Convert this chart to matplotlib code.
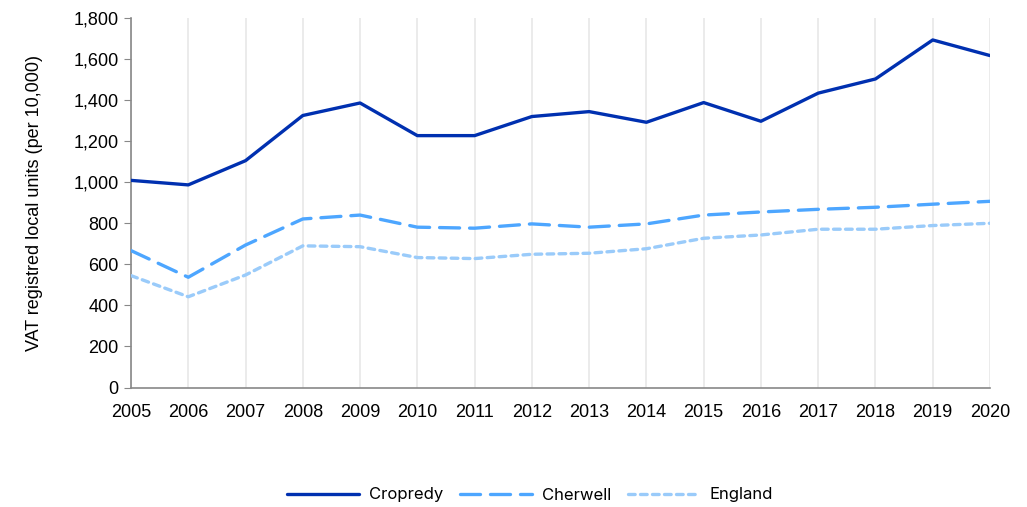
import matplotlib.pyplot as plt
from matplotlib.ticker import FuncFormatter

# VAT registered local units per 10,000 population
years = list(range(2005, 2021))
cropredy = [1009, 987, 1105, 1325, 1386, 1227, 1227, 1320, 1344, 1292,
            1388, 1297, 1434, 1503, 1693, 1617]
cherwell = [667, 537, 694, 821, 840, 781, 776, 797, 781, 797,
            840, 855, 868, 878, 893, 907]
england = [545, 442, 548, 690, 686, 633, 628, 649, 654, 676,
           727, 743, 771, 771, 789, 800]

plt.rcParams['font.family'] = ['Liberation Sans', 'DejaVu Sans']

fig = plt.figure(figsize=(10.27, 5.07), dpi=100)
ax = fig.add_axes([131 / 1027, 1 - 387.5 / 507, 859 / 1027, 369.5 / 507])

ax.plot(years, cropredy, color='#0030b0', lw=2.4, label='Cropredy',
        solid_capstyle='round', zorder=3)
ax.plot(years, cherwell, color='#4da6ff', lw=2.4, label='Cherwell',
        dashes=(6, 3), dash_capstyle='round', zorder=3)
ax.plot(years, england, color='#9acbfa', lw=2.4, label='England',
        dashes=(2, 1.6), dash_capstyle='round', zorder=3)

ax.set_xlim(2005, 2020)
ax.set_ylim(0, 1800)
ax.set_xticks(years)
ax.set_yticks(range(0, 1801, 200))
ax.yaxis.set_major_formatter(FuncFormatter(lambda v, p: f'{int(v):,}'))
ax.tick_params(axis='y', length=5, color='#888888', labelsize=13, pad=4)
ax.tick_params(axis='x', length=0, labelsize=13, pad=12)
ax.grid(axis='x', color='#e8e8e8', lw=1.2)
ax.set_axisbelow(True)

for side in ('top', 'right'):
    ax.spines[side].set_visible(False)
for side in ('left', 'bottom'):
    ax.spines[side].set_color('#888888')
    ax.spines[side].set_linewidth(1.2)

ax.set_ylabel('VAT registred local units (per 10,000)', fontsize=13, labelpad=22)

fig.legend(loc='center', bbox_to_anchor=(530 / 1027, 1 - 495 / 507), ncol=3,
           frameon=False, handlelength=4.3, columnspacing=1.0,
           handletextpad=0.6, prop={'family': 'Inter', 'size': 12})

fig.savefig('out.png', dpi=100)
